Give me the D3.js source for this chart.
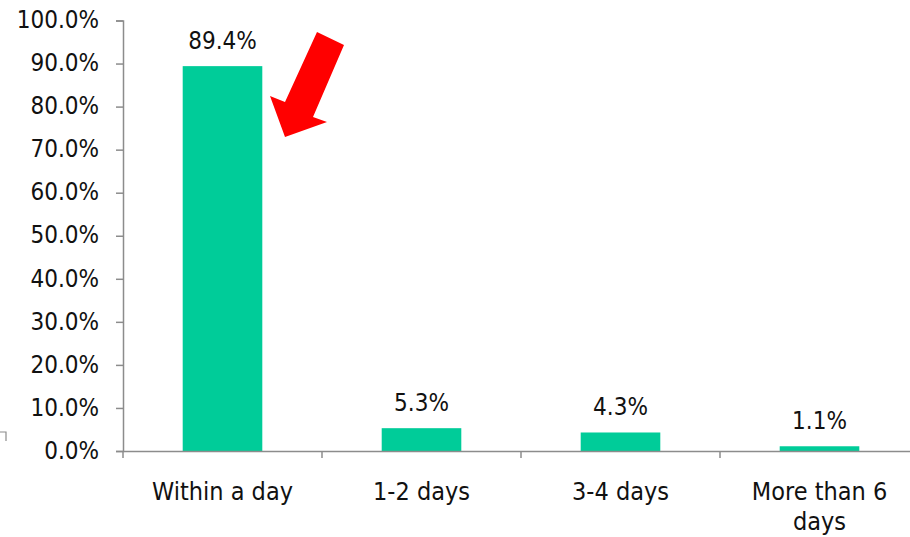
<!DOCTYPE html>
<html>
<head>
<meta charset="utf-8">
<script src="https://cdn.jsdelivr.net/npm/d3@7"></script>
<style>
  html, body { margin: 0; padding: 0; background: #fff; }
  svg { display: block; }
  text { font-family: "DejaVu Sans Condensed", "DejaVu Sans", sans-serif; fill: #111; }
</style>
</head>
<body>
<svg id="chart" width="910" height="537"></svg>
<script>
// Share of responses by time taken
const categories = ["Within a day", "1-2 days", "3-4 days", "More than 6 days"];
const values = [89.4, 5.3, 4.3, 1.1];
const yTicks = [0, 10, 20, 30, 40, 50, 60, 70, 80, 90, 100];

const svg = d3.select("#chart");
const axisColor = "#8c8c8c";
const barColor = "#00cc99";
const fontFamily = "'DejaVu Sans Condensed', 'DejaVu Sans', sans-serif";
const numSize = "24px";
const catSize = "25px";

const x = d3.scaleBand().domain(categories).range([123, 919]).padding(0);
const y = d3.scaleLinear().domain([0, 100]).range([451, 20.5]);
const barW = x.bandwidth() * 0.4;

// y axis
const yAxis = svg.append("g")
  .attr("transform", "translate(123,0)")
  .call(d3.axisLeft(y).tickValues(yTicks).tickSize(7).tickPadding(17)
    .tickFormat(d => d.toFixed(1) + "%"));
yAxis.select(".domain").attr("stroke", axisColor).attr("stroke-width", 1.5);
yAxis.selectAll(".tick line").attr("stroke", axisColor).attr("stroke-width", 1.5);
yAxis.selectAll(".tick text")
  .style("font-family", fontFamily)
  .style("font-size", numSize).attr("fill", "#111").attr("dy", "0.3em");

// bars
svg.append("g").selectAll("rect").data(values).join("rect")
  .attr("x", (d, i) => x(categories[i]) + (x.bandwidth() - barW) / 2)
  .attr("y", d => y(d))
  .attr("width", barW)
  .attr("height", d => y(0) - y(d))
  .attr("fill", barColor);

// x axis
const xAxis = svg.append("g")
  .attr("transform", "translate(0,451)")
  .call(d3.axisBottom(x).tickSize(0).tickFormat(""));
xAxis.select(".domain").attr("stroke", axisColor).attr("stroke-width", 1.5);
xAxis.selectAll(".tick").remove();
// band boundary ticks
svg.append("g").selectAll("line").data(categories).join("line")
  .attr("x1", d => x(d)).attr("x2", d => x(d))
  .attr("y1", 451).attr("y2", 458)
  .attr("stroke", axisColor).attr("stroke-width", 1.5);

// category labels, wrapped where long
const wrap = { "More than 6 days": ["More than 6", "days"] };
svg.append("g").selectAll("text").data(categories).join("text")
  .attr("text-anchor", "middle")
  .attr("x", d => x(d) + x.bandwidth() / 2)
  .attr("y", 500)
  .style("font-size", catSize)
  .each(function(d) {
    const lines = wrap[d] || [d];
    d3.select(this).selectAll("tspan").data(lines).join("tspan")
      .attr("x", x(d) + x.bandwidth() / 2)
      .attr("dy", (l, i) => i === 0 ? 0 : 30)
      .text(l => l);
  });

// value labels
svg.append("g").selectAll("text").data(values).join("text")
  .attr("text-anchor", "middle")
  .attr("x", (d, i) => x(categories[i]) + x.bandwidth() / 2)
  .attr("y", d => y(d) - 17)
  .style("font-size", numSize)
  .text(d => d.toFixed(1) + "%");

// red callout arrow pointing at the first bar
svg.append("polygon")
  .attr("points", "317,32 344,45 313,117 327,122 285,137 270,96 285,102")
  .attr("fill", "#ff0000");

// small corner mark at left edge
svg.append("path")
  .attr("d", "M0,432 H6 V441")
  .attr("fill", "none").attr("stroke", axisColor).attr("stroke-width", 1.2);
</script>
</body>
</html>
